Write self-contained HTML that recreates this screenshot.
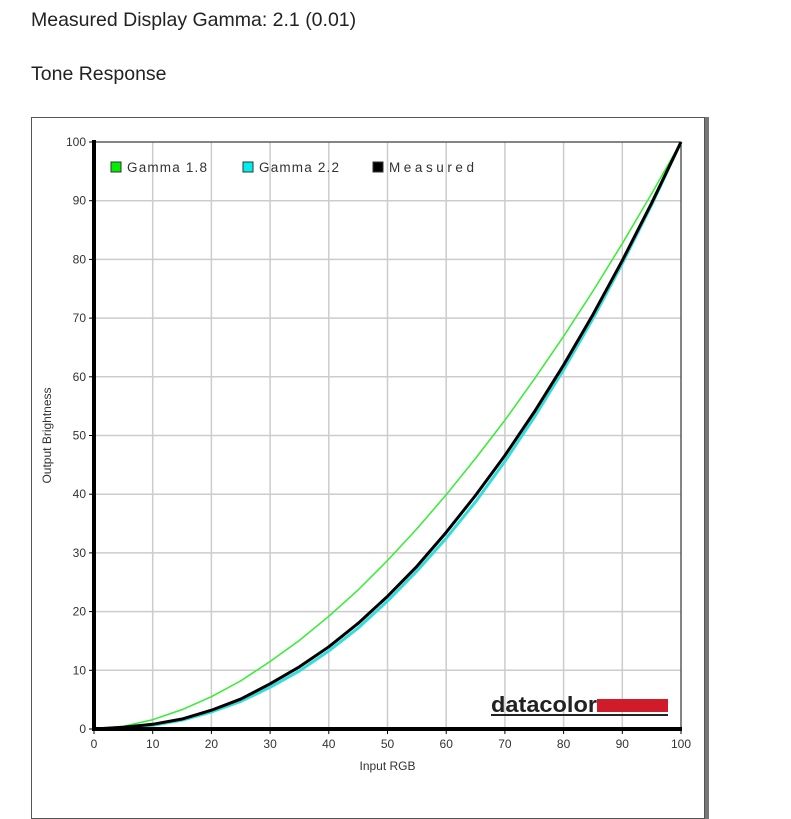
<!DOCTYPE html>
<html><head><meta charset="utf-8"><style>
body{margin:0;background:#fff;width:791px;height:783px;overflow:hidden;font-family:"Liberation Sans",Arial,sans-serif;position:relative}
.t{position:absolute;left:31px;font-size:19.5px;color:#222}
#frame{position:absolute;left:31px;top:117px;width:672px;height:700px;border:1px solid #555;box-shadow:4px 0 0 #777}
</style></head><body>
<div class="t" style="top:9px">Measured Display Gamma: 2.1 (0.01)</div>
<div class="t" style="top:63px">Tone Response</div>
<div id="frame"></div>
<svg id="c" width="791" height="783" style="position:absolute;left:0;top:0"></svg>
<script>
const xs=[0,5,10,15,20,25,30,35,40,45,50,55,60,65,70,75,80,85,90,95,100];
const gamma18=[0,0.46,1.58,3.3,5.5,8.2,11.5,15.1,19.2,23.7,28.7,34.1,39.9,46.1,52.6,59.6,66.9,74.6,82.7,91.2,100];
const gamma22=[0,0.14,0.63,1.5,2.9,4.7,7.1,9.9,13.3,17.2,21.8,26.9,32.5,38.7,45.6,53.1,61.2,69.9,79.3,89.3,100];
const measured=[0,0.3,0.8,1.7,3.2,5.1,7.7,10.6,14,18,22.6,27.7,33.5,39.8,46.6,54,62,70.6,79.8,89.6,100];
const ticks=[0,10,20,30,40,50,60,70,80,90,100];
const X0=94,X1=681,Y0=729,Y1=142;
const sx=v=>X0+(X1-X0)*v/100, sy=v=>Y0-(Y0-Y1)*v/100;
const svg=document.getElementById('c');const NS='http://www.w3.org/2000/svg';
function el(t,a,p){const e=document.createElementNS(NS,t);for(const k in a)e.setAttribute(k,a[k]);(p||svg).appendChild(e);return e;}
ticks.forEach(t=>{
 const g=el('line',{x1:sx(t),x2:sx(t),y1:Y1,y2:Y0,stroke:'#ccc','stroke-width':1.5});
 
 const h=el('line',{x1:X0,x2:X1,y1:sy(t),y2:sy(t),stroke:'#ccc','stroke-width':1.5});
 
 const lx=el('text',{x:sx(t),y:Y0+19,'text-anchor':'middle','font-size':12,fill:'#333'});lx.textContent=t;
 
 const ly=el('text',{x:X0-8,y:sy(t)+4,'text-anchor':'end','font-size':12,fill:'#333'});ly.textContent=t;
 
 el('line',{x1:sx(t),x2:sx(t),y1:Y0,y2:Y0+5,stroke:'#000','stroke-width':1});
 el('line',{x1:X0-5,x2:X0,y1:sy(t),y2:sy(t),stroke:'#000','stroke-width':1});
});
el('rect',{x:X0,y:Y1,width:X1-X0,height:Y0-Y1,fill:'none',stroke:'#222','stroke-width':1});
function series(vals,color,w,name){const p=el('polyline',{points:xs.map((x,i)=>sx(x)+','+sy(vals[i])).join(' '),fill:'none',stroke:color,'stroke-width':w,'stroke-linejoin':'round'});
 }
series(gamma18,'#33ee33',1.5,'gamma-1.8-line');
series(gamma22,'#33dddd',3,'gamma-2.2-line');
series(measured,'#000',3,'measured-line');
el('line',{x1:X0,x2:X0,y1:Y1-2,y2:Y0+2,stroke:'#000','stroke-width':4});
el('line',{x1:X0-2,x2:X1+1,y1:Y0,y2:Y0,stroke:'#000','stroke-width':4});
const leg=[['Gamma 1.8','#00ee00',111,80],['Gamma 2.2','#00eeee',243,80],['Measured','#000',373,85]];
leg.forEach(l=>{const r=el('rect',{x:l[2],y:162,width:10,height:10,fill:l[1],stroke:'#333','stroke-width':1});
 
 const t=el('text',{x:l[2]+16,y:172,'font-size':13.5,fill:'#333',textLength:l[3]});t.textContent=l[0];
 });
const xt=el('text',{x:(X0+X1)/2,y:770,'text-anchor':'middle','font-size':12,fill:'#333'});xt.textContent='Input RGB';

const yt=el('text',{x:0,y:0,'text-anchor':'middle','font-size':12,fill:'#333',transform:'translate(51,'+((Y0+Y1)/2)+') rotate(-90)'});yt.textContent='Output Brightness';

const dt=el('text',{x:491,y:712,'font-size':22,'font-weight':'bold',fill:'#222',textLength:106,lengthAdjust:'spacingAndGlyphs'});dt.textContent='datacolor';

el('rect',{x:597,y:699,width:71,height:13,fill:'#d01c2a'});
el('rect',{x:491,y:714,width:177,height:2,fill:'#222'});
</script>
</body></html>
